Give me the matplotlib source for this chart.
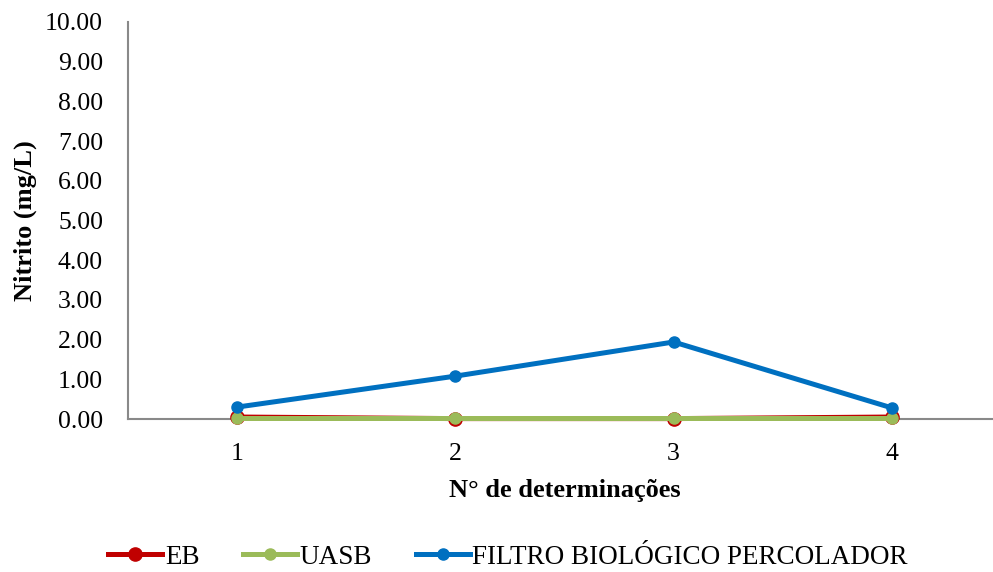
import matplotlib
matplotlib.use("Agg")
import matplotlib.pyplot as plt

categories = [1, 2, 3, 4]
eb = [0.05, 0.01, 0.01, 0.05]
uasb = [0.02, 0.02, 0.02, 0.02]
fbp = [0.30, 1.08, 1.94, 0.28]
yticks = [0, 1, 2, 3, 4, 5, 6, 7, 8, 9, 10]

plt.rcParams['font.family'] = ['Liberation Serif', 'DejaVu Serif']

fig = plt.figure(figsize=(9.93, 5.72), dpi=100)
ax = fig.add_axes([128/993, 1-419/572, (1001-128)/993, (419-22)/572])

ax.plot(categories, eb, color='#C00000', lw=3.6, marker='o', ms=9.5, label='EB', clip_on=False, zorder=3)
ax.plot(categories, uasb, color='#9BBB59', lw=3.6, marker='o', ms=8, label='UASB', clip_on=False, zorder=4)
ax.plot(categories, fbp, color='#0070C0', lw=3.6, marker='o', ms=8, label='FILTRO BIOLÓGICO PERCOLADOR', clip_on=False, zorder=5)

ax.set_xlim(0.5, 4.5)
ax.set_ylim(0, 10)
ax.set_yticks(yticks)
ax.set_yticklabels([f"{v:.2f}" for v in yticks])
ax.set_xticks(categories)
ax.tick_params(axis='both', length=0, labelsize=18.5, colors='black')
ax.tick_params(axis='y', pad=18)
ax.tick_params(axis='x', pad=17)

for s in ['top', 'right']:
    ax.spines[s].set_visible(False)
for s in ['left', 'bottom']:
    ax.spines[s].set_color('#898989')
    ax.spines[s].set_linewidth(1.5)

ax.set_xlabel('N° de determinações', fontsize=19, fontweight='bold', labelpad=10)
ax.set_ylabel('Nitrito (mg/L)', fontsize=19, fontweight='bold', labelpad=6)

fig.legend(loc='center', bbox_to_anchor=(508/993, 1-557/572), ncol=3, frameon=False,
           fontsize=19.5, handlelength=2.0, handletextpad=0.1, columnspacing=1.6)

fig.savefig('out.png', dpi=100)
